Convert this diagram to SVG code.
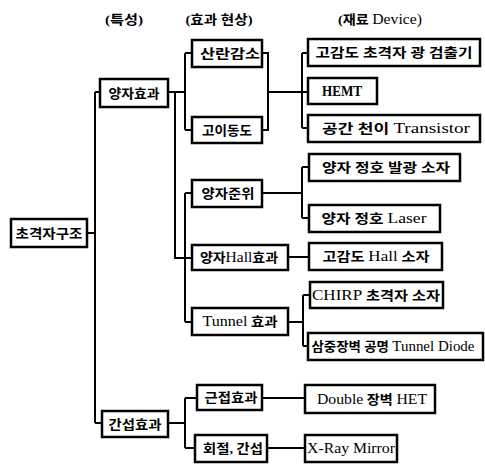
<svg xmlns="http://www.w3.org/2000/svg" width="485" height="464" viewBox="0 0 485 464">
<style>
rect{fill:#fff;stroke:#000;stroke-width:2.5}
text{font-family:"Liberation Serif","Noto Sans CJK KR",serif;font-size:13px;font-weight:bold;fill:#000;text-anchor:middle}
.l{font-weight:normal;font-size:14.5px}
.c path{fill:none;stroke:#000;stroke-width:2}
</style>
<rect x="0" y="0" width="485" height="464" style="stroke:none"/>
<g id="headers">
<text x="124" y="24" textLength="38" lengthAdjust="spacingAndGlyphs">(특성)</text>
<text x="219" y="24" textLength="67" lengthAdjust="spacingAndGlyphs">(효과 현상)</text>
<text x="380" y="24" textLength="84" lengthAdjust="spacingAndGlyphs">(재료 <tspan class="l">Device)</tspan></text>
</g>
<g class="c" id="connectors">
<path d="M87,233H95M95,92V423M95,92H100M95,423H102"/>
<path d="M168,92H185M185,53V130M185,53H192M185,130H192"/>
<path d="M262,53H268V130H262M268,92H308M302,53V128M302,53H308M302,128H308"/>
<path d="M175,92V258H192M185,193V322M185,193H192M185,322H192"/>
<path d="M262,193H302M302,167V218M302,167H309M302,218H309"/>
<path d="M288,257H309"/>
<path d="M288,322H303M303,295V346M303,295H310M303,346H308"/>
<path d="M168,423H185M185,398V448M185,398H197M185,448H195"/>
<path d="M262,398H305M267,448H305"/>
</g>
<g id="n-root"><rect x="11" y="219" width="76" height="28"/><text x="49" y="237.5" textLength="67" lengthAdjust="spacingAndGlyphs">초격자구조</text></g>
<g id="n-quantum"><rect x="100" y="79" width="68" height="28"/><text x="134" y="97.5" textLength="51" lengthAdjust="spacingAndGlyphs">양자효과</text></g>
<g id="n-interf"><rect x="102" y="411" width="66" height="26"/><text x="135" y="428.5" textLength="53" lengthAdjust="spacingAndGlyphs">간섭효과</text></g>
<g id="n-scatter"><rect x="192" y="40" width="70" height="27"/><text x="230" y="58" textLength="60" lengthAdjust="spacingAndGlyphs">산란감소</text></g>
<g id="n-mobility"><rect x="192" y="117" width="70" height="26"/><text x="227" y="134.5" textLength="50" lengthAdjust="spacingAndGlyphs">고이동도</text></g>
<g id="n-level"><rect x="192" y="180" width="70" height="27"/><text x="228" y="198" textLength="53" lengthAdjust="spacingAndGlyphs">양자준위</text></g>
<g id="n-hall"><rect x="192" y="245" width="96" height="25"/><text x="239" y="262" textLength="78" lengthAdjust="spacingAndGlyphs">양자<tspan class="l">Hall</tspan>효과</text></g>
<g id="n-tunnel"><rect x="192" y="308" width="96" height="27"/><text x="240" y="326" textLength="75" lengthAdjust="spacingAndGlyphs"><tspan class="l">Tunnel</tspan> 효과</text></g>
<g id="n-prox"><rect x="197" y="385" width="65" height="25"/><text x="231" y="402" textLength="53" lengthAdjust="spacingAndGlyphs">근접효과</text></g>
<g id="n-diff"><rect x="195" y="435" width="72" height="27"/><text x="233" y="453" textLength="60" lengthAdjust="spacingAndGlyphs">회절, 간섭</text></g>
<g id="d-photo"><rect x="308" y="39" width="172" height="27"/><text x="394" y="57" textLength="157" lengthAdjust="spacingAndGlyphs">고감도 초격자 광 검출기</text></g>
<g id="d-hemt"><rect x="308" y="78" width="69" height="26"/><text x="342" y="96" textLength="40" lengthAdjust="spacingAndGlyphs" style="font-size:14px">HEMT</text></g>
<g id="d-transistor"><rect x="308" y="115" width="172" height="27"/><text x="396" y="133" textLength="148" lengthAdjust="spacingAndGlyphs">공간 천이 <tspan class="l">Transistor</tspan></text></g>
<g id="d-emit"><rect x="309" y="154" width="151" height="27"/><text x="386" y="172" textLength="128" lengthAdjust="spacingAndGlyphs">양자 정호 발광 소자</text></g>
<g id="d-laser"><rect x="309" y="205" width="131" height="27"/><text x="374" y="223" textLength="105" lengthAdjust="spacingAndGlyphs">양자 정호 <tspan class="l">Laser</tspan></text></g>
<g id="d-hall"><rect x="309" y="243" width="133" height="27"/><text x="376" y="261" textLength="107" lengthAdjust="spacingAndGlyphs">고감도 <tspan class="l">Hall</tspan> 소자</text></g>
<g id="d-chirp"><rect x="310" y="282" width="133" height="26"/><text x="376" y="299.5" textLength="128" lengthAdjust="spacingAndGlyphs"><tspan class="l">CHIRP</tspan> 초격자 소자</text></g>
<g id="d-diode"><rect x="308" y="333" width="175" height="27"/><text x="393" y="351" textLength="163" lengthAdjust="spacingAndGlyphs">삼중장벽 공명 <tspan class="l">Tunnel Diode</tspan></text></g>
<g id="d-het"><rect x="305" y="385" width="130" height="28"/><text x="372" y="403.5" textLength="110" lengthAdjust="spacingAndGlyphs"><tspan class="l">Double</tspan> 장벽 <tspan class="l">HET</tspan></text></g>
<g id="d-xray"><rect x="305" y="435" width="92" height="27"/><text x="351" y="453" textLength="88" lengthAdjust="spacingAndGlyphs" class="l">X-Ray Mirror</text></g>
</svg>
